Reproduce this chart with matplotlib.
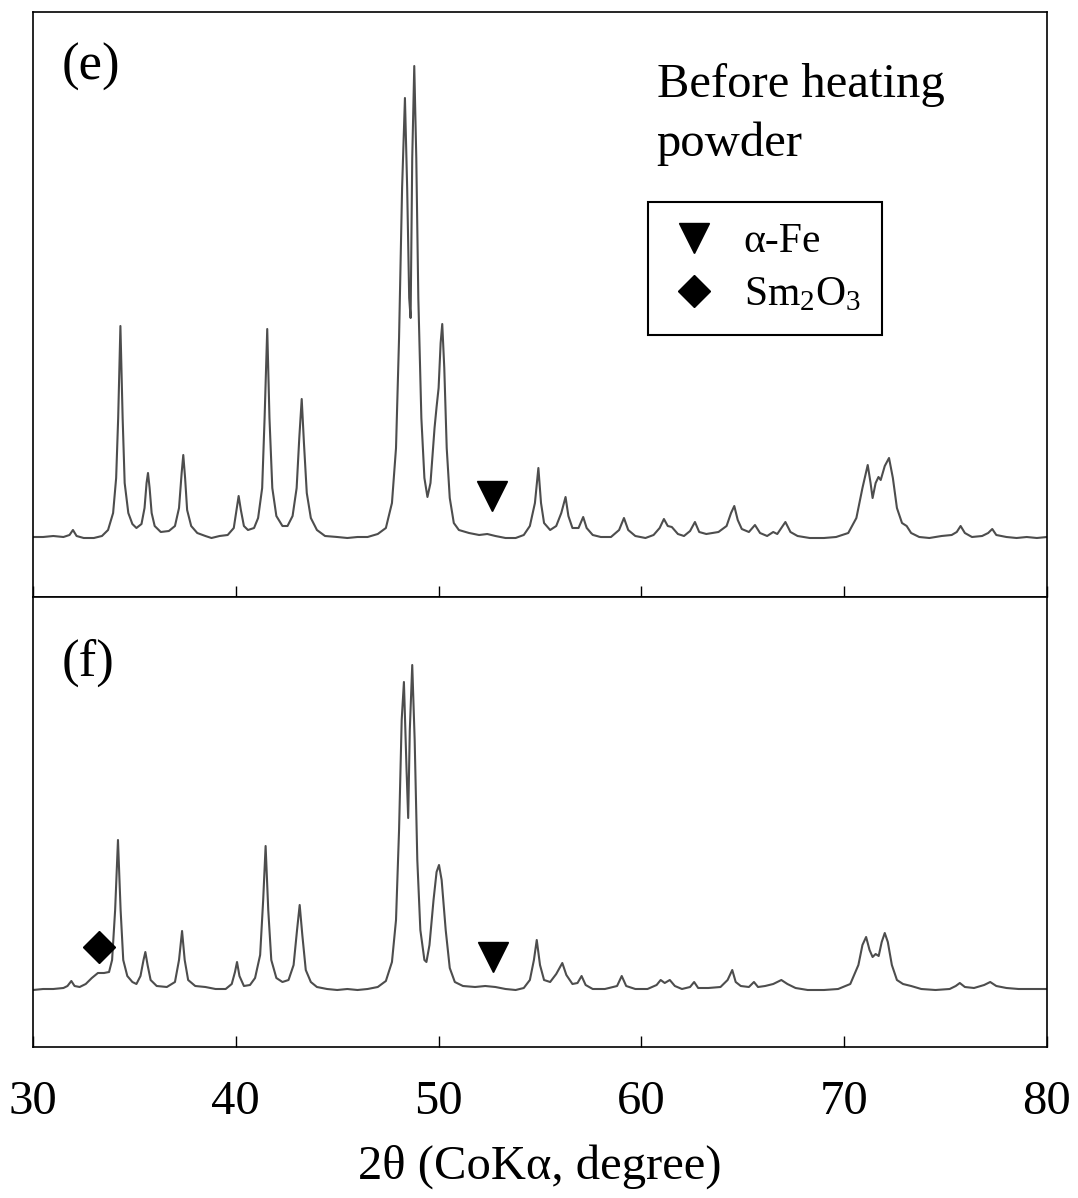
import matplotlib
matplotlib.use("Agg")
import matplotlib.pyplot as plt
from matplotlib.lines import Line2D

plt.rcParams['font.family'] = ['Liberation Serif', 'DejaVu Serif']
plt.rcParams['mathtext.fontset'] = 'custom'
plt.rcParams['mathtext.rm'] = 'Liberation Serif'
plt.rcParams['mathtext.it'] = 'Liberation Serif:italic'

# XRD trace (e), before heating powder: 2theta / intensity (a.u., baseline = 0)
e_2theta = [30.0, 30.5, 31.0, 31.5, 31.8, 31.97, 32.15, 32.5, 33.0, 33.4, 33.7, 33.95, 34.1, 34.2, 34.31,
            34.42, 34.52, 34.7, 34.9, 35.1, 35.35, 35.5, 35.6, 35.67, 35.75, 35.85, 36.0, 36.3, 36.7,
            37.0, 37.2, 37.33, 37.41, 37.5, 37.6, 37.8, 38.1, 38.5, 38.8, 39.2, 39.6, 39.9, 40.05, 40.14,
            40.25, 40.4, 40.6, 40.9, 41.1, 41.3, 41.42, 41.55, 41.66, 41.8, 42.0, 42.3, 42.55, 42.8, 43.0,
            43.13, 43.25, 43.36, 43.5, 43.7, 44.0, 44.4, 45.0, 45.5, 46.0, 46.5, 47.0, 47.4, 47.7, 47.9,
            48.05, 48.2, 48.34, 48.45, 48.55, 48.62, 48.7, 48.8, 48.9, 49.0, 49.15, 49.3, 49.45, 49.6,
            49.8, 49.9, 50.0, 50.1, 50.18, 50.28, 50.4, 50.55, 50.75, 51.0, 51.5, 52.0, 52.4, 52.8, 53.3,
            53.8, 54.2, 54.5, 54.75, 54.92, 55.05, 55.2, 55.5, 55.8, 56.05, 56.26, 56.4, 56.6, 56.9,
            57.13, 57.3, 57.6, 58.0, 58.5, 58.9, 59.14, 59.35, 59.7, 60.2, 60.6, 60.9, 61.11, 61.3, 61.5,
            61.8, 62.1, 62.4, 62.64, 62.85, 63.2, 63.8, 64.2, 64.42, 64.58, 64.75, 64.95, 65.3, 65.6,
            65.85, 66.2, 66.5, 66.7, 67.1, 67.35, 67.7, 68.3, 69.0, 69.6, 70.2, 70.6, 70.9, 71.16, 71.3,
            71.4, 71.55, 71.69, 71.8, 72.0, 72.21, 72.4, 72.6, 72.85, 73.08, 73.3, 73.7, 74.2, 74.8,
            75.3, 75.55, 75.74, 75.95, 76.3, 76.8, 77.1, 77.3, 77.5, 78.0, 78.5, 79.0, 79.5, 80.0]
e_int = [1, 1, 2, 1, 3, 8, 2, 0, 0, 2, 8, 25, 60, 120, 212,
         120, 55, 25, 14, 10, 14, 30, 55, 65, 50, 25, 12, 6, 7,
         12, 30, 65, 83, 60, 28, 12, 5, 2, 0, 2, 3, 10, 30, 42,
         28, 12, 8, 10, 20, 50, 120, 209, 120, 50, 22, 12, 12, 22, 50,
         100, 139, 95, 45, 20, 8, 2, 1, 0, 1, 1, 4, 10, 35, 90,
         200, 350, 440, 350, 240, 220, 380, 472, 380, 240, 120, 60, 41, 55,
         110, 131, 150, 195, 214, 170, 90, 40, 15, 8, 5, 3, 4, 2, 0,
         0, 3, 12, 35, 70, 35, 15, 8, 12, 25, 41, 22, 10, 10,
         21, 10, 3, 1, 1, 8, 20, 8, 2, 0, 3, 10, 19, 12, 11,
         4, 2, 7, 16, 6, 4, 6, 12, 25, 32, 18, 9, 6, 13,
         5, 2, 6, 4, 16, 6, 2, 0, 0, 1, 5, 20, 50, 73, 55,
         40, 55, 61, 58, 72, 80, 60, 30, 15, 12, 5, 1, 0, 2,
         3, 6, 12, 5, 1, 2, 5, 9, 3, 1, 0, 1, 0, 1]

# XRD trace (f)
f_2theta = [30.0, 30.5, 31.0, 31.5, 31.7, 31.89, 32.05, 32.3, 32.6, 32.9, 33.2, 33.5, 33.75, 33.9, 34.05,
            34.19, 34.32, 34.45, 34.65, 34.9, 35.1, 35.3, 35.45, 35.54, 35.65, 35.8, 36.1, 36.6, 37.0,
            37.2, 37.35, 37.48, 37.65, 38.0, 38.5, 39.0, 39.5, 39.8, 39.96, 40.06, 40.18, 40.4, 40.7,
            40.95, 41.2, 41.35, 41.47, 41.6, 41.75, 42.0, 42.3, 42.6, 42.85, 43.02, 43.15, 43.28, 43.45,
            43.7, 44.0, 44.5, 45.0, 45.5, 46.0, 46.5, 47.0, 47.4, 47.7, 47.9, 48.05, 48.18, 48.29, 48.42,
            48.5, 48.58, 48.7, 48.82, 48.95, 49.1, 49.3, 49.4, 49.55, 49.75, 49.9, 50.02, 50.15, 50.35,
            50.55, 50.8, 51.2, 51.8, 52.3, 52.8, 53.3, 53.8, 54.2, 54.5, 54.7, 54.84, 55.0, 55.2, 55.5,
            55.8, 56.1, 56.3, 56.6, 56.85, 57.05, 57.25, 57.6, 58.2, 58.8, 59.03, 59.25, 59.7, 60.3,
            60.75, 60.95, 61.15, 61.4, 61.65, 62.0, 62.4, 62.6, 62.8, 63.3, 63.9, 64.25, 64.48, 64.65,
            64.9, 65.3, 65.55, 65.75, 66.1, 66.5, 66.9, 67.2, 67.6, 68.2, 69.0, 69.7, 70.3, 70.7, 70.9,
            71.08, 71.25, 71.4, 71.55, 71.7, 71.85, 72.0, 72.15, 72.35, 72.6, 72.9, 73.3, 73.8, 74.5,
            75.2, 75.5, 75.7, 75.95, 76.4, 76.9, 77.2, 77.5, 78.0, 78.6, 79.2, 80.0]
f_int = [0, 1, 1, 2, 4, 9, 4, 3, 6, 12, 17, 17, 18, 30, 80,
         150, 80, 30, 14, 8, 6, 14, 30, 38, 25, 10, 4, 3, 8,
         30, 59, 30, 10, 4, 3, 1, 1, 6, 18, 28, 14, 4, 5,
         12, 35, 90, 144, 80, 30, 12, 8, 10, 25, 60, 85, 55, 20,
         8, 3, 1, 0, 1, 0, 1, 3, 9, 28, 70, 160, 270, 308, 220,
         172, 260, 325, 250, 130, 60, 30, 28, 45, 90, 118, 125, 110, 60,
         22, 8, 4, 3, 4, 3, 1, 0, 2, 10, 30, 50, 25, 10, 8,
         16, 27, 15, 6, 7, 14, 5, 1, 1, 4, 14, 4, 1, 1,
         5, 10, 7, 10, 4, 1, 3, 8, 2, 2, 3, 10, 20, 8,
         4, 3, 8, 3, 4, 6, 10, 6, 2, 0, 0, 1, 6, 25, 45,
         53, 40, 33, 36, 34, 48, 57, 48, 25, 10, 6, 4, 1, 0,
         1, 4, 7, 3, 2, 5, 8, 4, 2, 1, 1, 1]

# phase markers
fe_e = (52.62, 42)
fe_f = (52.7, 33)
sm_f = (33.24, 43)

xticks = [30, 40, 50, 60, 70, 80]
line_col = '#4d4d4d'

fig = plt.figure(figsize=(10.78, 11.98), dpi=100)
ax1 = fig.add_axes([33 / 1078, 1 - 597 / 1198, 1014 / 1078, 585 / 1198])
ax2 = fig.add_axes([33 / 1078, 1 - 1047 / 1198, 1014 / 1078, 450 / 1198])

for ax in (ax1, ax2):
    ax.set_xlim(30, 80)
    ax.set_xticks(xticks)
    ax.set_yticks([])
    ax.tick_params(axis='x', direction='in', length=8, width=1.0, colors='black',
                   labelsize=35, pad=24)
    for s in ax.spines.values():
        s.set_linewidth(1.2)

ax1.set_ylim(-59, 526)
ax2.set_ylim(-57, 393)
ax1.tick_params(axis='x', labelbottom=False)

ax1.plot(e_2theta, e_int, color=line_col, lw=1.5)
ax2.plot(f_2theta, f_int, color=line_col, lw=1.5)

ax1.plot(*fe_e, marker='v', ms=21, color='black', ls='none')
ax2.plot(*fe_f, marker='v', ms=21, color='black', ls='none')
ax2.plot(*sm_f, marker='D', ms=16, color='black', ls='none')

ax1.text(0.028, 0.948, '(e)', transform=ax1.transAxes, fontsize=38, va='top', ha='left')
ax2.text(0.028, 0.908, '(f)', transform=ax2.transAxes, fontsize=38, va='top', ha='left')
ax1.text(0.615, 0.912, 'Before heating\npowder', transform=ax1.transAxes, fontsize=35,
         va='top', ha='left', linespacing=1.42)

handles = [Line2D([], [], marker='v', ms=21, color='black', ls='none'),
           Line2D([], [], marker='D', ms=16, color='black', ls='none')]
leg = ax1.legend(handles, ['α-Fe', 'Sm$_2$O$_3$'], loc='upper left',
                 bbox_to_anchor=(0.6065, 0.675), borderaxespad=0, fontsize=30,
                 fancybox=False, edgecolor='black', framealpha=1,
                 handlelength=1.2, handletextpad=0.6, labelspacing=0.35, borderpad=0.5)
leg.get_frame().set_linewidth(1.5)

ax2.set_xlabel('2θ (CoKα, degree)', fontsize=35, labelpad=14)

fig.savefig('out.png', dpi=100)
